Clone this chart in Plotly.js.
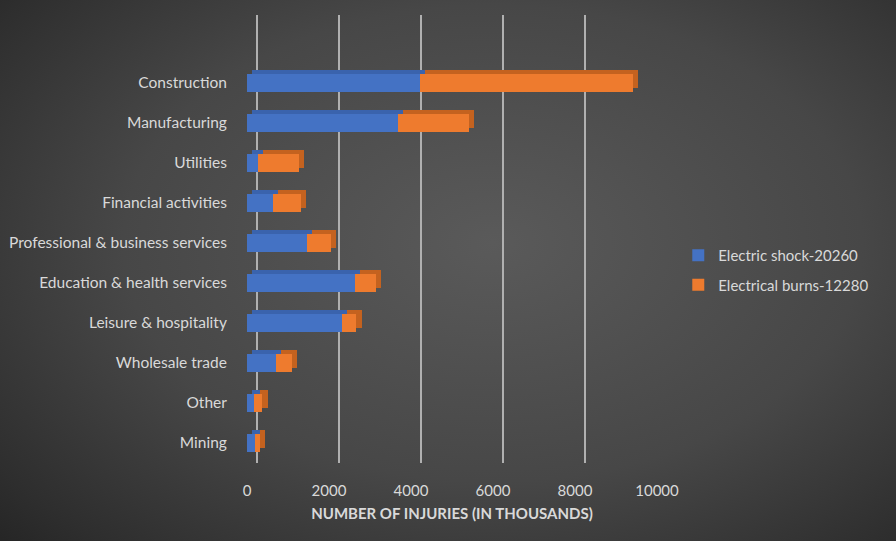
<!DOCTYPE html>
<html><head><meta charset="utf-8">
<script src="https://cdn.plot.ly/plotly-3.0.1.min.js"></script>
<style>
html,body{margin:0;padding:0;width:896px;height:541px;overflow:hidden;
background:radial-gradient(ellipse 75% 80% at 55% 45%, #5a5a5a 0%, #474747 55%, #2e2e2e 90%, #262626 100%);}
#chart{width:896px;height:541px;}
</style></head>
<body><div id="chart"></div>
<script>
const categories = ["Construction","Manufacturing","Utilities","Financial activities","Professional & business services","Education & health services","Leisure & hospitality","Wholesale trade","Other","Mining"];
const electricShock = [4220,3675,270,625,1455,2635,2320,700,180,195];
const electricalBurns = [5195,1740,1000,690,585,515,350,390,195,120];
const seriesNames = ["Electric shock-20260","Electrical burns-12280"];
const xTicks = [0,2000,4000,6000,8000,10000];
const xTickText = ["0","2000","4000","6000","8000","10000"];

const txt = '#d9d9d9';
const fontFam = 'Lato, "Open Sans", sans-serif';
const W = 0.46;
const gridShift = 244;  // back wall shift (data units)
const depthShift = 125; // bar depth shift (data units)

const traces = [
  {type:'bar', orientation:'h', y:[], x:[], xaxis:'x', yaxis:'y', showlegend:false, hoverinfo:'skip'},
  {type:'bar', orientation:'h', y:categories, x:electricShock, xaxis:'x2', yaxis:'y',
   marker:{color:'#3a63ad'}, width:W, offset:-W/2+0.1, showlegend:false, hoverinfo:'skip'},
  {type:'bar', orientation:'h', y:categories, x:electricalBurns, xaxis:'x2', yaxis:'y',
   marker:{color:'#c4621f'}, width:W, offset:-W/2+0.1, showlegend:false, hoverinfo:'skip'},
  {type:'bar', orientation:'h', y:categories, x:electricShock, xaxis:'x3', yaxis:'y',
   name:seriesNames[0], legendgroup:'a', marker:{color:'#4472c4'}, width:W, offset:-W/2},
  {type:'bar', orientation:'h', y:categories, x:electricalBurns, xaxis:'x3', yaxis:'y',
   name:seriesNames[1], legendgroup:'b', marker:{color:'#ee7b2e'}, width:W, offset:-W/2}
];

const layout = {
  width:896, height:541,
  paper_bgcolor:'rgba(0,0,0,0)', plot_bgcolor:'rgba(0,0,0,0)',
  margin:{l:247, r:239, t:15, b:78},
  barmode:'stack',
  font:{family:fontFam, color:txt, size:15},
  showlegend:true,
  legend:{xref:'container', yref:'container', x:0.757, y:0.558, xanchor:'left', yanchor:'top',
          font:{size:15, color:txt, family:fontFam}, bgcolor:'rgba(0,0,0,0)', traceorder:'grouped', tracegroupgap:7},
  xaxis:{range:[-gridShift, 10000-gridShift], tickvals:xTicks, showticklabels:false, showgrid:true,
         gridcolor:'#b0b0b0', gridwidth:1.3, zeroline:false, showline:false, ticks:''},
  xaxis2:{overlaying:'x', range:[-depthShift, 10000-depthShift], showticklabels:false, showgrid:false,
          zeroline:false, showline:false, ticks:''},
  xaxis3:{overlaying:'x', side:'bottom', range:[0,10000], tickvals:xTicks, ticktext:xTickText,
          showgrid:false, zeroline:false,
          ticks:'outside', ticklen:14, tickcolor:'rgba(0,0,0,0)',
          tickfont:{size:15, color:txt, family:fontFam},
          title:{text:'<b>NUMBER OF INJURIES (IN THOUSANDS)</b>', font:{size:15, color:txt, family:fontFam}, standoff:10}},
  yaxis:{categoryorder:'array', categoryarray:categories.slice().reverse(), range:[-0.5,10.7],
         showgrid:false, zeroline:false, showline:false, ticks:'outside', ticklen:16, tickcolor:'rgba(0,0,0,0)',
         tickfont:{size:15.5, color:txt, family:fontFam}}
};

Plotly.newPlot('chart', traces, layout, {displayModeBar:false, staticPlot:true});
</script>
</body></html>
